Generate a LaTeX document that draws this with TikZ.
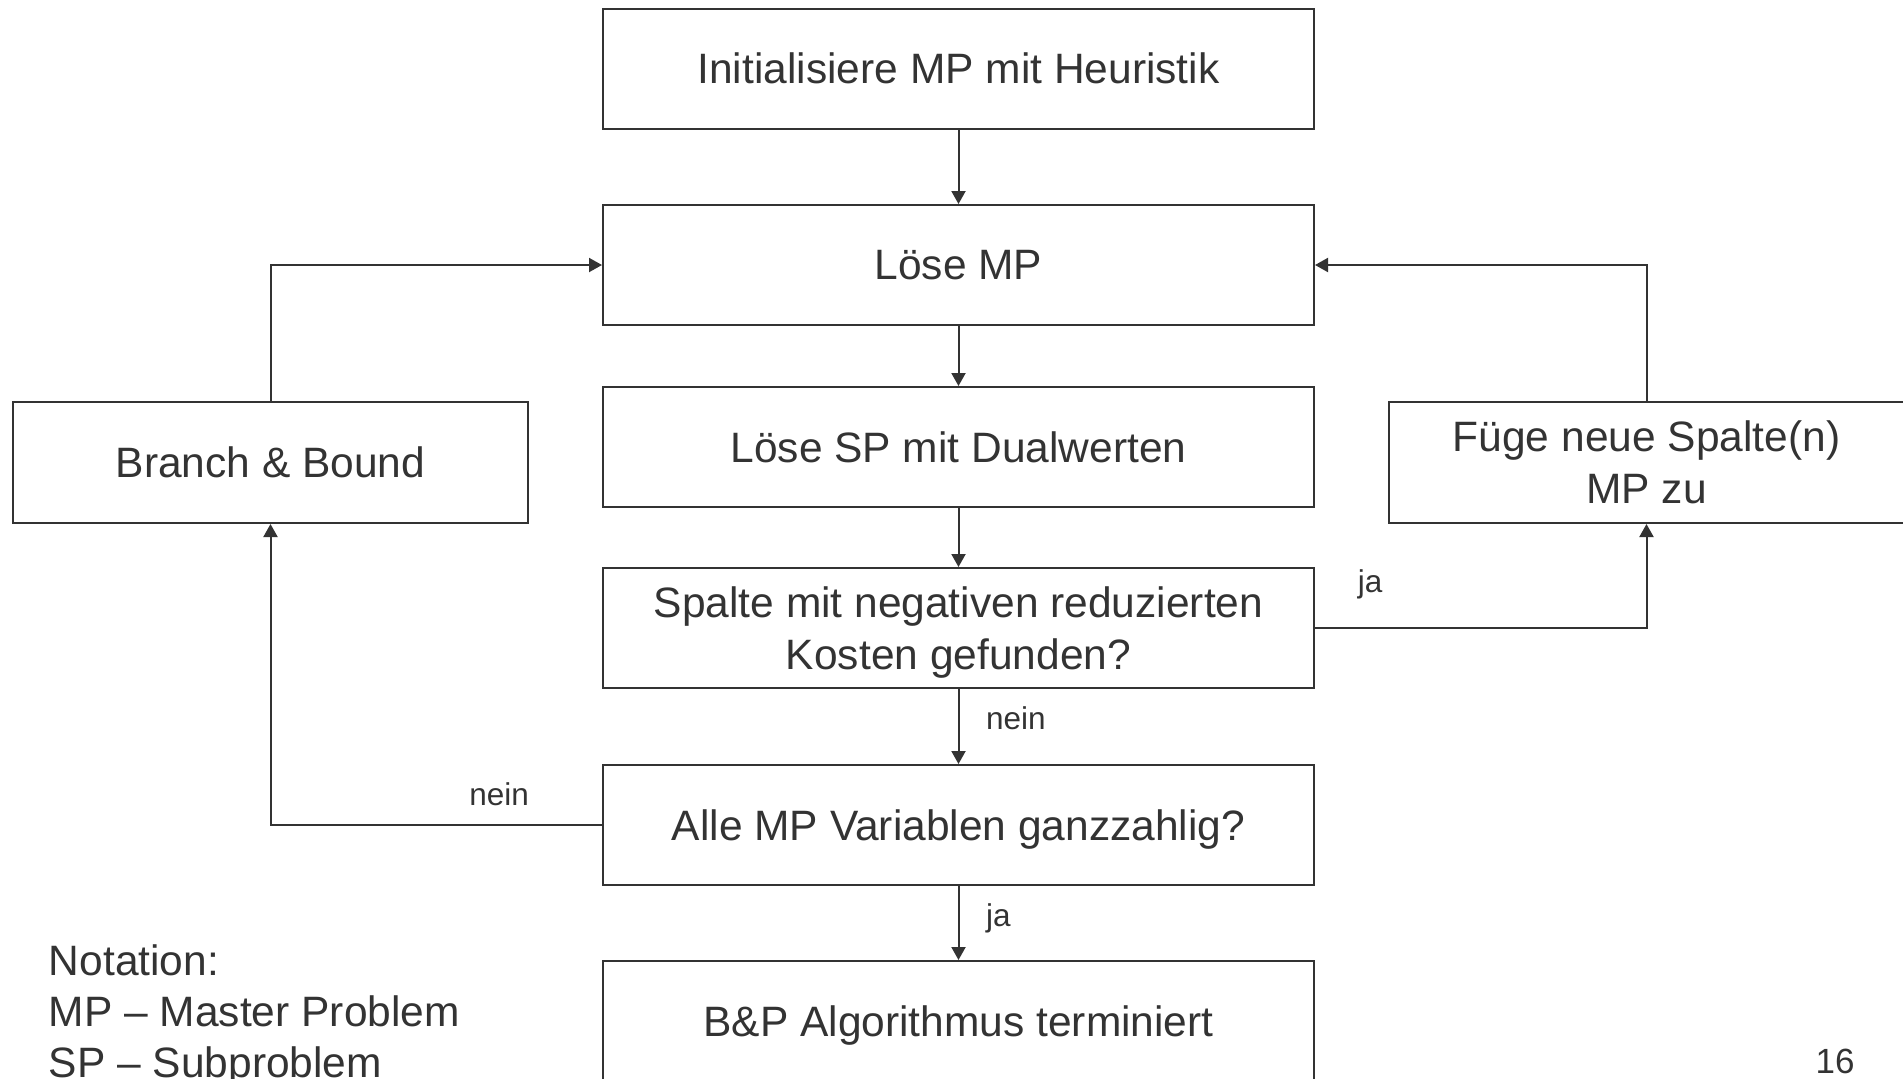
\documentclass[tikz,border=0pt]{standalone}
\usepackage{fontspec}
\setmainfont{Liberation Sans}
\usetikzlibrary{arrows.meta}
\definecolor{flowgray}{RGB}{51,51,51}

\begin{document}
\begin{tikzpicture}[x=0.5pt,y=-0.5pt,
  every node/.style={text=flowgray},
  stepbox/.style={draw=flowgray,line width=1pt,minimum width=355.5pt,minimum height=60pt,
    inner sep=0pt,text depth=0pt,align=center,font=\fontsize{21.25pt}{26pt}\selectfont},
  sidebox/.style={stepbox,minimum width=257.5pt,minimum height=60.5pt},
  flow/.style={draw=flowgray,line width=1pt,-{Triangle[length=6.5pt,width=7pt]}},
  answer/.style={font=\fontsize{15.75pt}{18pt}\selectfont}]
 \useasboundingbox (0,0) rectangle (1903,1078);
 \node[stepbox] (init) at (958.5,68.5) {Initialisiere MP mit Heuristik};
 \node[stepbox] (solvemp) at (958.5,265) {Löse MP};
 \node[stepbox] (solvesp) at (958.5,447) {Löse SP mit Dualwerten};
 \node[stepbox] (found) at (958.5,628) {Spalte mit negativen reduzierten\\Kosten gefunden?};
 \node[stepbox] (integral) at (958.5,825) {Alle MP Variablen ganzzahlig?};
 \node[stepbox] (done) at (958.5,1021) {B\&P Algorithmus terminiert};
 \node[sidebox] (bb) at (270.5,462.5) {Branch \& Bound};
 \node[sidebox] (addcol) at (1646.5,462.5) {Füge neue Spalte(n)\\MP zu};
 \draw[flow] (init) -- (solvemp);
 \draw[flow] (solvemp) -- (solvesp);
 \draw[flow] (solvesp) -- (found);
 \draw[flow] (found) -- node[answer,pos=.54,anchor=base west,xshift=10pt] {nein} (integral);
 \draw[flow] (integral) -- node[answer,pos=.55,anchor=base west,xshift=10pt] {ja} (done);
 \draw[flow] (found.east) -| node[answer,pos=.083,anchor=base,yshift=18pt] {ja} (addcol.south);
 \draw[flow] (integral.west) -| node[answer,pos=.155,anchor=base,yshift=10pt] {nein} (bb.south);
 \draw[flow] (bb.north) |- (solvemp.west);
 \draw[flow] (addcol.north) |- (solvemp.east);
 \node[anchor=north west,align=left,inner sep=0pt,font=\fontsize{21.25pt}{25.5pt}\selectfont]
   (notation) at (48.5,944) {Notation:\\MP – Master Problem\\SP – Subproblem};
 \node[anchor=base east,inner sep=0pt,font=\fontsize{17.5pt}{20pt}\selectfont] (pagenum) at (1855,1073) {16};
\end{tikzpicture}
\end{document}
